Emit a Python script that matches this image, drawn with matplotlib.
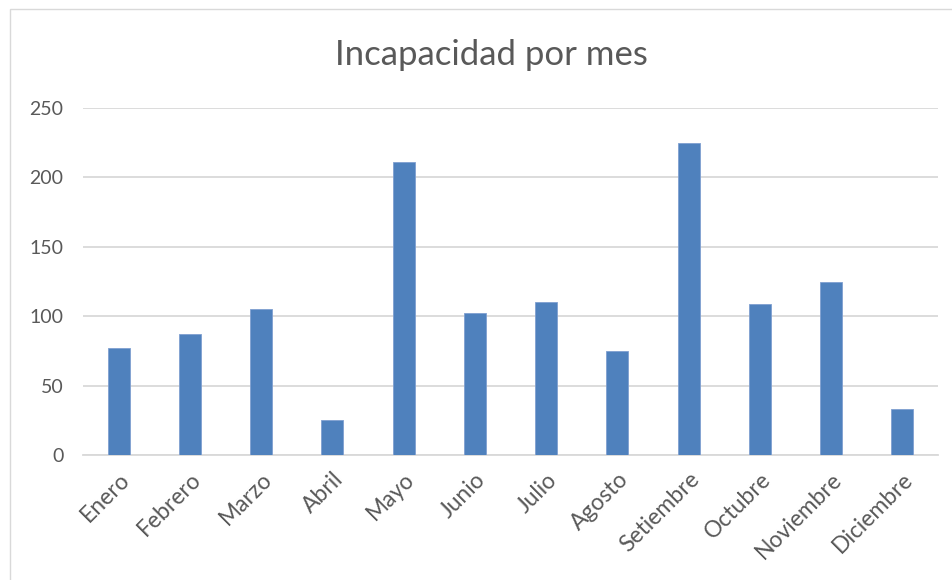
import numpy as np
import matplotlib
matplotlib.use('Agg')
import matplotlib.pyplot as plt
from matplotlib.patches import Rectangle

meses = ['Enero', 'Febrero', 'Marzo', 'Abril', 'Mayo', 'Junio', 'Julio',
         'Agosto', 'Setiembre', 'Octubre', 'Noviembre', 'Diciembre']
valores = [77, 87, 105, 25, 211, 102, 110, 75, 225, 109, 125, 33]
yticks = [0, 50, 100, 150, 200, 250]

gris = '#595959'
plt.rcParams['font.family'] = ['Lato', 'DejaVu Sans']

fig = plt.figure(figsize=(9.53, 5.8), dpi=100)
ax = fig.add_axes([83 / 953, 1 - 455 / 580, 855 / 953, 347 / 580])

x = np.arange(len(meses))
ax.bar(x, valores, width=0.31, color='#4f81bd', edgecolor='#7f9fd0',
       linewidth=0.6, zorder=3)

ax.set_xlim(-0.5, len(meses) - 0.5)
ax.set_ylim(0, 250)
ax.set_yticks(yticks)
ax.set_xticks(x)
ax.set_xticklabels(meses, rotation=45, ha='right', va='top',
                   rotation_mode='anchor')
ax.tick_params(axis='both', length=0, colors=gris)
ax.tick_params(axis='x', pad=10, labelsize=16.5)
ax.tick_params(axis='y', pad=14, labelsize=14)
ax.grid(axis='y', color='#d9d9d9', linewidth=1.3, zorder=0)
for s in ['top', 'right', 'left']:
    ax.spines[s].set_visible(False)
ax.spines['bottom'].set_color('#d9d9d9')
ax.spines['bottom'].set_linewidth(1.3)

fig.text(491 / 953, 1 - 55 / 580, 'Incapacidad por mes', ha='center',
         va='center', fontsize=25, color=gris)

# borde del grafico
fig.patches.append(Rectangle((10 / 953, -0.05), 1.0, 1 - 9 / 580 + 0.05,
                             transform=fig.transFigure, fill=False,
                             edgecolor='#d9d9d9', linewidth=1.0))

fig.savefig('out.png', dpi=100, facecolor='white')
